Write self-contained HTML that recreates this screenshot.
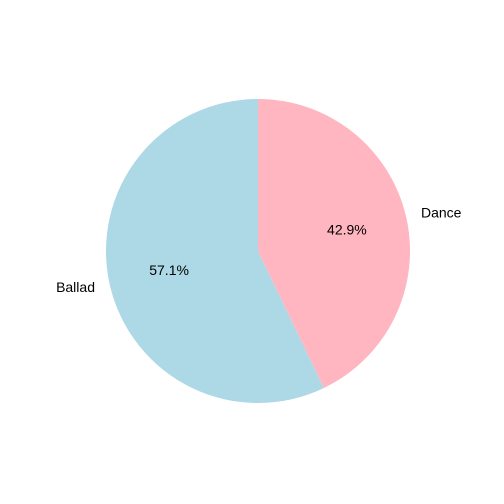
<!DOCTYPE html>
<html><head><meta charset="utf-8"><style>
html,body{margin:0;padding:0;background:#fff;}
svg{display:block;font-family:"Liberation Sans","DejaVu Sans",sans-serif;}
</style></head><body>
<svg id="chart" width="504" height="504" viewBox="0 0 504 504"></svg>
<script>
const categories = ["Ballad", "Dance"];
const values = [4, 3];
const colors = ["#add8e6", "#ffb6c1"];
const cx = 258, cy = 251, r = 152;
const svg = document.getElementById('chart');
const NS = 'http://www.w3.org/2000/svg';
const total = values.reduce((a, b) => a + b, 0);
let start = 90;
function pt(deg, rad) { const a = deg * Math.PI / 180; return [cx + rad * Math.cos(a), cy - rad * Math.sin(a)]; }
values.forEach((v, i) => {
  const sweep = v / total * 360;
  const end = start + sweep;
  const p1 = pt(start, r), p2 = pt(end, r);
  const large = sweep > 180 ? 1 : 0;
  const path = document.createElementNS(NS, 'path');
  path.setAttribute('d', `M${cx},${cy} L${p1[0]},${p1[1]} A${r},${r} 0 ${large} 0 ${p2[0]},${p2[1]} Z`);
  path.setAttribute('fill', colors[i]);
  
  
  svg.appendChild(path);
  const mid = start + sweep / 2;
  const lp = pt(mid, r * 1.1);
  const lab = document.createElementNS(NS, 'text');
  lab.setAttribute('x', lp[0]); lab.setAttribute('y', lp[1]);
  lab.setAttribute('font-size', '14');
  lab.setAttribute('dominant-baseline', 'middle');
  lab.setAttribute('text-anchor', Math.cos(mid * Math.PI / 180) < 0 ? 'end' : 'start');
  lab.textContent = categories[i];
  
  
  svg.appendChild(lab);
  const pp = pt(mid, r * 0.6);
  const pct = document.createElementNS(NS, 'text');
  pct.setAttribute('x', pp[0]); pct.setAttribute('y', pp[1]);
  pct.setAttribute('font-size', '14');
  pct.setAttribute('dominant-baseline', 'middle');
  pct.setAttribute('text-anchor', 'middle');
  pct.textContent = (v / total * 100).toFixed(1) + '%';
  
  
  svg.appendChild(pct);
  start = end;
});
</script>
</body></html>
